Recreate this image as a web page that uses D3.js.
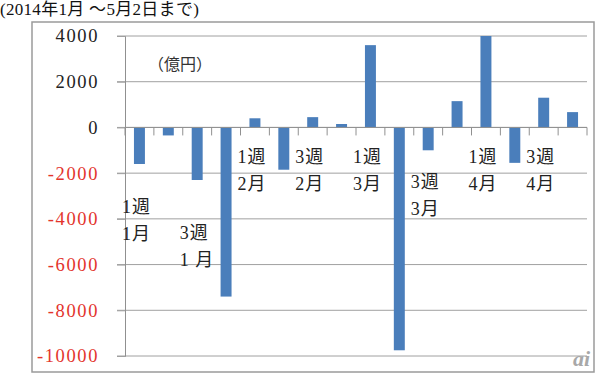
<!DOCTYPE html>
<html>
<head>
<meta charset="utf-8">
<script src="https://cdn.jsdelivr.net/npm/d3@7"></script>
<style>
  html, body { margin: 0; padding: 0; background: #fff; }
  svg { display: block; }
</style>
</head>
<body>
<svg id="chart" width="600" height="377"></svg>
<script>
var categories = ['w1','w2','w3','w4','w5','w6','w7','w8','w9','w10','w11','w12','w13','w14','w15','w16'];
var values = [-1600, -350, -2300, -7400, 400, -1850, 450, 150, 3600, -9750, -1000, 1150, 4000, -1550, 1300, 670];
var yTicks = [4000, 2000, 0, -2000, -4000, -6000, -8000, -10000];
// week labels: category index where label sits, y value of first line, text lines
var weekLabels = [
    {i: 0,  y: -3500, lines: ['1週', '1月']},
    {i: 2,  y: -4600, lines: ['3週', '1 月']},
    {i: 4,  y: -1280, lines: ['1週', '2月']},
    {i: 6,  y: -1280, lines: ['3週', '2月']},
    {i: 8,  y: -1280, lines: ['1週', '3月']},
    {i: 10, y: -2400, lines: ['3週', '3月']},
    {i: 12, y: -1280, lines: ['1週', '4月']},
    {i: 14, y: -1280, lines: ['3週', '4月']}
];
var title = '(2014年1月 ～5月2日まで)';
var unit = '（億円）';

(function (){

    var svg = d3.select('#chart');
    var left = 125, right = 587, top = 36, bottom = 356;
    var serif = "'Liberation Serif', 'Noto Sans CJK JP', serif";

    var x = d3.scaleBand()
        .domain(categories)
        .range([left, right])
        .paddingInner(0.62)
        .paddingOuter(0.31);

    var y = d3.scaleLinear()
        .domain([-10000, 4000])
        .range([bottom, top]);

    // outer frame
    svg.append('rect')
        .attr('x', 32).attr('y', 22)
        .attr('width', 562).attr('height', 350)
        .attr('fill', 'none')
        .attr('stroke', '#9a9a9a')
        .attr('stroke-width', 1.5);

    svg.append('text')
        .attr('x', 0).attr('y', 15)
        .style('font-family', serif)
        .style('font-size', '17px')
        .style('letter-spacing', '0.3px')
        .attr('fill', '#111')
        .text(title);

    // gridlines
    svg.append('g').selectAll('line').data(yTicks)
        .enter().append('line')
        .attr('x1', left - 8).attr('x2', right)
        .attr('y1', function(d){ return y(d); })
        .attr('y2', function(d){ return y(d); })
        .attr('stroke', '#a0a0a0')
        .attr('stroke-width', 1);

    var yAxis = svg.append('g')
        .attr('transform', 'translate(' + left + ',0)')
        .call(d3.axisLeft(y).tickValues(yTicks).tickSize(8).tickPadding(18)
            .tickFormat(function(d){ return String(d); }));

    yAxis.attr('font-family', null).attr('font-size', null);
    yAxis.select('.domain').attr('stroke', '#909090');
    yAxis.selectAll('.tick line').attr('stroke', '#a0a0a0');
    yAxis.selectAll('.tick text')
        .style('font-family', serif)
        .style('font-size', '18.5px')
        .style('letter-spacing', '1.6px')
        .attr('fill', function(d){ return d < 0 ? '#e3342c' : '#222'; });

    svg.append('text')
        .attr('x', 148).attr('y', 63)
        .attr('dominant-baseline', 'central')
        .style('font-family', "'Noto Sans CJK JP', sans-serif")
        .style('font-size', '16px')
        .attr('fill', '#333')
        .text(unit);

    // bars
    svg.append('g').selectAll('rect').data(values)
        .enter().append('rect')
        .attr('x', function(d, i){ return x(categories[i]); })
        .attr('width', x.bandwidth())
        .attr('y', function(d){ return y(Math.max(0, d)); })
        .attr('height', function(d){ return Math.abs(y(d) - y(0)); })
        .attr('fill', '#4a7ebb');

    // category axis along zero, ticks at band edges
    var x0 = x.range()[0], step = x.step();
    var edges = d3.range(categories.length + 1).map(function(k){ return x0 + k * step; });

    svg.append('line')
        .attr('x1', left).attr('x2', right)
        .attr('y1', y(0)).attr('y2', y(0))
        .attr('stroke', '#909090');

    svg.append('g').selectAll('line').data(edges)
        .enter().append('line')
        .attr('x1', function(d){ return d; })
        .attr('x2', function(d){ return d; })
        .attr('y1', y(0)).attr('y2', y(0) + 8)
        .attr('stroke', '#909090');

    // week labels
    var lab = svg.append('g').selectAll('g').data(weekLabels)
        .enter().append('g');

    lab.selectAll('text').data(function(d){
            return d.lines.map(function(t, k){ return {t: t, k: k, d: d}; });
        })
        .enter().append('text')
        .attr('x', function(o){ return edges[o.d.i] - 3; })
        .attr('y', function(o){ return y(o.d.y) + o.k * 27; })
        .attr('dominant-baseline', 'central')
        .style('font-family', serif)
        .style('font-size', '18px')
        .style('letter-spacing', '1px')
        .attr('fill', '#222')
        .text(function(o){ return o.t; });

    // watermark
    svg.append('text')
        .attr('x', 590).attr('y', 366)
        .attr('text-anchor', 'end')
        .style('font-family', serif)
        .style('font-style', 'italic')
        .style('font-weight', 'bold')
        .style('font-size', '22px')
        .attr('fill', '#a8a8a8')
        .text('ai');

})();
</script>
</body>
</html>
